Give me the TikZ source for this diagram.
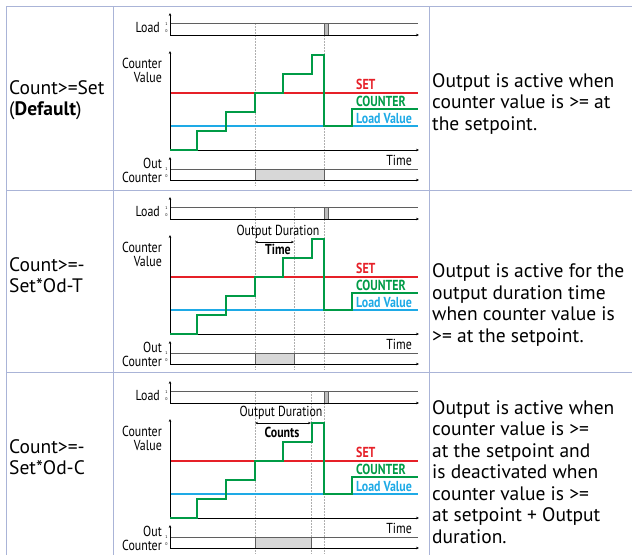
\documentclass[tikz,border=0pt]{standalone}
\usepackage{fontspec}
\setmainfont{PT Sans}
\newfontfamily\condfont[FakeStretch=0.82]{PT Sans}
\usetikzlibrary{arrows.meta}

\definecolor{gridline}{RGB}{170,180,215}
\definecolor{setred}{RGB}{230,32,40}
\definecolor{cntgreen}{RGB}{0,155,70}
\definecolor{loadblue}{RGB}{30,170,230}
\definecolor{lvlgray}{RGB}{95,95,95}
\definecolor{outfill}{RGB}{215,215,215}
\definecolor{dotgray}{RGB}{175,175,175}

\begin{document}
\begin{tikzpicture}[
        x=1pt,
        y=-1pt,
        every node/.style={inner sep=0pt},
        celltext/.style={font=\fontsize{19.5}{21.5}\selectfont, align=left, anchor=west},
        sig/.style={font=\condfont\fontsize{14.5}{14}\selectfont, align=right, anchor=east},
        lbl/.style={font=\condfont\bfseries\fontsize{14.5}{14}\selectfont, anchor=west},
        tick/.style={font=\fontsize{4}{4}\selectfont},
        axis/.style={-{Stealth[length=3pt,width=2.6pt]}, line width=0.6pt},
        lvl/.style={lvlgray, line width=0.9pt},
        guide/.style={dotgray, line width=0.6pt, dash pattern=on 1.5pt off 1.5pt},
        span/.style={{Stealth[length=3pt,width=2.4pt]}-{Stealth[length=3pt,width=2.4pt]}, line width=0.5pt}
    ]
        \useasboundingbox (0,0) rectangle (632,555);

        % Table grid
        \draw[gridline, line width=0.9pt] (6,555) -- (6,6) -- (632,6);
        \draw[gridline, line width=0.9pt] (113,6) -- (113,555);
        \draw[gridline, line width=0.9pt] (429,6) -- (429,555);
        \draw[gridline, line width=0.9pt] (6,190) -- (632,190);
        \draw[gridline, line width=0.9pt] (6,372) -- (632,372);

        % Mode names
        \node[celltext] (mode1) at (9,100){Count>=Set\\(\textbf{Default})};
        \node[celltext] (mode2) at (9,275){Count>=-\\Set*Od-T};
        \node[celltext] (mode3) at (9,457){Count>=-\\Set*Od-C};

        % Descriptions
        \node[celltext] (desc1) at (432,104){Output is active when\\counter value is >= at\\the setpoint.};
        \node[celltext] (desc2) at (432,305){Output is active for the\\output duration time\\when counter value is\\>= at the setpoint.};
        \node[celltext] (desc3) at (432,472){Output is active when\\counter value is >=\\at the setpoint and\\is deactivated when\\counter value is >=\\at setpoint + Output\\duration.};

        % Row specific guides and output windows
        \begin{scope}
            \draw[guide] (255,23) -- (255,186);
            \draw[guide] (324,23) -- (324,186);
            \fill[outfill] (255,169) rectangle (324,180);
            \draw[lvl] (255,169) -- (255,180);
            \draw[lvl] (324,169) -- (324,180);
        \end{scope}
        \begin{scope}[shift={(0,184)}]
            \draw[guide] (255,23) -- (255,186);
            \draw[guide] (294,23) -- (294,186);
            \draw[guide] (324,23) -- (324,186);
            \fill[outfill] (255,169) rectangle (294,180);
            \draw[lvl] (255,169) -- (255,180);
            \draw[lvl] (294,169) -- (294,180);
            \node[font=\condfont\fontsize{14.5}{14}\selectfont] (dur2) at (278,48){Output Duration};
            \node[font=\condfont\bfseries\fontsize{14.5}{14}\selectfont] (len2) at (278,65){Time};
            \coordinate (a2) at (255,58);
            \coordinate (b2) at (294,58);
            \draw[span] (a2) -- (b2);
        \end{scope}
        \begin{scope}[shift={(0,368)}]
            \draw[guide] (255,23) -- (255,186);
            \draw[guide] (311,23) -- (311,186);
            \draw[guide] (324,23) -- (324,186);
            \fill[outfill] (255,169) rectangle (311,180);
            \draw[lvl] (255,169) -- (255,180);
            \draw[lvl] (311,169) -- (311,180);
            \node[font=\condfont\fontsize{14.5}{14}\selectfont] (dur3) at (281,45){Output Duration};
            \node[font=\condfont\bfseries\fontsize{14.5}{14}\selectfont] (len3) at (282,64){Counts};
            \coordinate (a3) at (255,55);
            \coordinate (b3) at (311,55);
            \draw[span] (a3) -- (b3);
        \end{scope}

        % Timing charts
        \foreach \r/\oy in {1/0,2/184,3/368}{
            \begin{scope}[shift={(0,\oy)}]
                % Load input
                \node[sig] (load\r) at (160,28){Load};
                \node[tick] (lhi\r) at (166.5,24.5){1};
                \node[tick] (llo\r) at (166.5,31.5){0};
                \draw[lvl] (170,23) -- (418,23);
                \draw[lvl, fill=outfill!70!gray] (324,23) rectangle (328,35);
                \draw[axis] (170,35) -- (170,13);
                \draw[axis] (170,35) -- (419,35);

                % Counter value
                \node[sig] (cval\r) at (162,70){Counter\\Value};
                \draw[color=setred, line width=1.3pt] (170,93) -- (418,93);
                \draw[color=loadblue, line width=1.3pt] (170,126) -- (418,126);
                \draw[axis] (170,150) -- (170,51);
                \draw[axis] (170,150) -- (419,150);
                \draw[color=cntgreen, line width=1.3pt] (170,150) -| (197,131) -| (226,112) -| (255,93)
                    -| (283,74) -| (312,55) -| (324,126) -| (352,109) -- (418,109);
                \node[lbl, text=setred] (set\r) at (356,84){SET};
                \node[lbl, text=cntgreen] (cnt\r) at (356,101){COUNTER};
                \node[lbl, text=loadblue] (lv\r) at (356,119){Load Value};
                \node[sig] (time\r) at (412,160){Time};

                % Output
                \node[sig] (out\r) at (162,170){Out\\Counter};
                \node[tick] (ohi\r) at (166.5,169.5){1};
                \node[tick] (olo\r) at (166.5,176.5){0};
                \draw[lvl] (170,169) -- (418,169);
                \draw[axis] (170,180) -- (170,157);
                \draw[axis] (170,180) -- (419,180);
            \end{scope}
        }
    \end{tikzpicture}
\end{document}
